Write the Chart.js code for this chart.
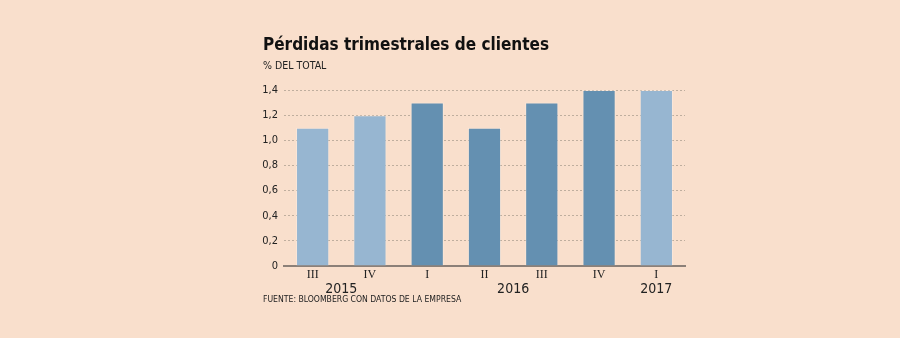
<!DOCTYPE html>
<html>
<head>
<meta charset="utf-8">
<script src="https://cdn.jsdelivr.net/npm/chart.js@4/dist/chart.umd.min.js"></script>
<style>
  html, body { margin: 0; padding: 0; background: #f9dfcc; }
  #wrap { position: relative; width: 900px; height: 338px; }
  canvas { position: absolute; left: 0; top: 0; }
  .title { position: absolute; left: 263px; top: 34px; font: bold 17px "DejaVu Sans Condensed", sans-serif; color: #111; white-space: nowrap; }
  .sub { position: absolute; left: 263px; top: 59px; font: 10.5px "DejaVu Sans Condensed", sans-serif; color: #222; }
  .src { position: absolute; left: 263px; top: 294px; font: 8.6px "DejaVu Sans Condensed", sans-serif; color: #222; white-space: nowrap; }
</style>
</head>
<body>
<div id="wrap">
  <canvas id="chart" width="900" height="338"></canvas>
  <div class="title">Pérdidas trimestrales de clientes</div>
  <div class="sub">% DEL TOTAL</div>
  <div class="src">FUENTE: BLOOMBERG CON DATOS DE LA EMPRESA</div>
</div>
<script>
const quarters = ["III", "IV", "I", "II", "III", "IV", "I"];
const years = ["2015", "2015", "2016", "2016", "2016", "2016", "2017"];
const losses = [1.1, 1.2, 1.3, 1.1, 1.3, 1.4, 1.4];
const shade = ["light", "light", "dark", "dark", "dark", "dark", "light"];
const yTicks = [0, 0.2, 0.4, 0.6, 0.8, 1.0, 1.2, 1.4];

const colors = { light: "#97b6d1", dark: "#6490b1" };

// year labels centred under their quarters
const yearLabels = {
  id: "yearLabels",
  afterDraw(chart) {
    const x = chart.scales.x;
    const ctx = chart.ctx;
    const groups = {};
    years.forEach((y, i) => {
      (groups[y] = groups[y] || []).push(x.getPixelForValue(i));
    });
    ctx.save();
    ctx.font = "14px 'DejaVu Sans Condensed', sans-serif";
    ctx.fillStyle = "#222";
    ctx.textAlign = "center";
    ctx.textBaseline = "middle";
    Object.keys(groups).forEach((y) => {
      const px = groups[y].reduce((a, b) => a + b, 0) / groups[y].length;
      ctx.fillText(y, px, chart.chartArea.bottom + 23);
    });
    ctx.restore();
  },
};

new Chart(document.getElementById("chart"), {
  type: "bar",
  data: {
    labels: quarters,
    datasets: [
      {
        data: losses,
        backgroundColor: shade.map((s) => colors[s]),
        borderColor: "rgba(255,255,255,0.25)",
        borderWidth: 1,
        barPercentage: 0.58,
        categoryPercentage: 1,
      },
    ],
  },
  options: {
    responsive: false,
    animation: false,
    layout: { padding: { left: 250, right: 215, top: 90, bottom: 0 } },
    plugins: { legend: { display: false }, tooltip: { enabled: false } },
    scales: {
      x: {
        grid: { display: false, drawTicks: false },
        border: { display: true, color: "#8c8078", width: 2 },
        ticks: {
          padding: 2,
          color: "#222",
          font: { family: "'Liberation Serif', serif", size: 12 },
        },
        afterFit: (s) => { s.height = 72; },
      },
      y: {
        min: 0,
        max: 1.4,
        afterBuildTicks: (s) => { s.ticks = yTicks.map((v) => ({ value: v })); },
        grid: { color: "#bfae9e", lineWidth: 1, drawTicks: false },
        border: { display: false, dash: [2, 2] },
        ticks: {
          padding: 6,
          color: "#222",
          font: { family: "'DejaVu Sans Condensed', sans-serif", size: 11 },
          callback: (v) => (v === 0 ? "0" : v.toFixed(1).replace(".", ",")),
        },
        afterFit: (s) => { s.width = 34; },
      },
    },
  },
  plugins: [yearLabels],
});
</script>
</body>
</html>
